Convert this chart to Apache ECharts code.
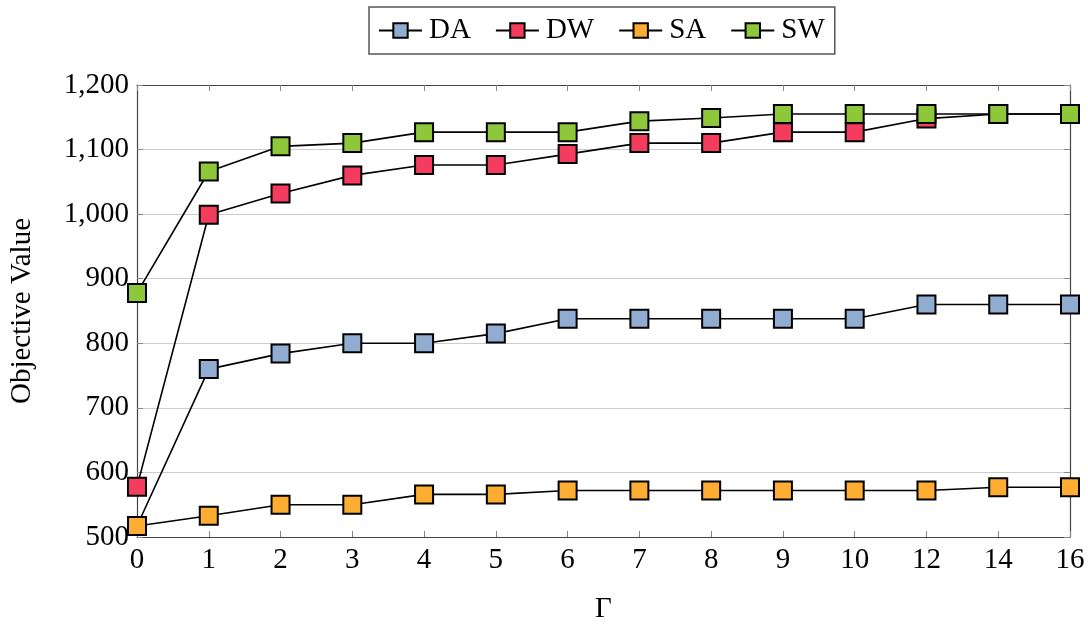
<!DOCTYPE html>
<html>
<head>
<meta charset="utf-8">
<script src="https://cdn.jsdelivr.net/npm/echarts@6/dist/echarts.min.js"></script>
<style>html,body{margin:0;padding:0;background:#fff}#c{width:1088px;height:628px}</style>
</head>
<body>
<div id="c"></div>
<script>
const categories = ['0','1','2','3','4','5','6','7','8','9','10','12','14','16'];
const DA = [517, 760, 784, 800, 800, 815, 838, 838, 838, 838, 838, 860, 860, 860];
const DW = [578, 999, 1032, 1060, 1076, 1076, 1093, 1110, 1110, 1127, 1127, 1148, 1155, 1155];
const SA = [517, 533, 550, 550, 566, 566, 572, 572, 572, 572, 572, 572, 577, 577];
const SW = [878, 1066, 1105, 1110, 1127, 1127, 1127, 1144, 1149, 1155, 1155, 1155, 1155, 1155];
const seriesNames = ['DA', 'DW', 'SA', 'SW'];
const seriesColors = ['#91acd1', '#f43c5e', '#fcad32', '#8ec73a'];
const yTicks = [500, 600, 700, 800, 900, 1000, 1100, 1200];

const FONT = '"Liberation Serif", "DejaVu Serif", serif';
const FS = 29;
const values = [DA, DW, SA, SW];

const chart = echarts.init(document.getElementById('c'), null, {renderer: 'canvas'});
const axisColor = '#444';
const option = {
  animation: false,
  backgroundColor: '#fff',
  textStyle: {fontFamily: FONT},
  legend: {
    top: 7,
    left: 369,
    data: seriesNames,
    itemWidth: 43,
    itemHeight: 18,
    itemGap: 24,
    padding: [9, 10, 9, 9],
    borderColor: '#555',
    borderWidth: 1.5,
    textStyle: {fontFamily: FONT, fontSize: FS, color: '#000', padding: [0, 0, 0, 2]}
  },
  grid: {left: 137, right: 18, top: 85, bottom: 91, containLabel: false, outerBoundsMode: 'none'},
  xAxis: [{
    type: 'category',
    data: categories,
    boundaryGap: false,
    name: 'Γ',
    nameLocation: 'middle',
    nameGap: 58,
    nameTextStyle: {fontFamily: FONT, fontSize: FS, color: '#000'},
    axisLine: {show: true, lineStyle: {color: axisColor, width: 1.2}},
    axisTick: {show: true, inside: true, length: 6, lineStyle: {color: '#888'}},
    axisLabel: {fontFamily: FONT, fontSize: FS, color: '#000', margin: 9},
    splitLine: {show: false}
  }, {
    type: 'category',
    data: categories,
    boundaryGap: false,
    position: 'top',
    axisLine: {show: true, lineStyle: {color: axisColor, width: 1.2}},
    axisTick: {show: true, inside: true, length: 6, lineStyle: {color: '#888'}},
    axisLabel: {show: false},
    splitLine: {show: false}
  }],
  yAxis: [{
    type: 'value',
    min: 500,
    max: 1200,
    interval: 100,
    name: 'Objective Value',
    nameLocation: 'middle',
    nameGap: 100,
    nameTextStyle: {fontFamily: FONT, fontSize: FS, color: '#000'},
    axisLine: {show: true, lineStyle: {color: axisColor, width: 1.2}},
    axisTick: {show: true, inside: true, length: 6, lineStyle: {color: '#888'}},
    axisLabel: {
      fontFamily: FONT, fontSize: FS, color: '#000', margin: 8,
      formatter: v => yTicks.includes(v) ? v.toLocaleString('en-US') : ''
    },
    splitLine: {show: true, lineStyle: {color: '#cccccc', width: 1}}
  }, {
    type: 'value',
    min: 500,
    max: 1200,
    interval: 100,
    position: 'right',
    axisLine: {show: true, lineStyle: {color: axisColor, width: 1.2}},
    axisTick: {show: true, inside: true, length: 6, lineStyle: {color: '#888'}},
    axisLabel: {show: false},
    splitLine: {show: false}
  }],
  series: seriesNames.map((name, i) => ({
    name: name,
    type: 'line',
    data: values[i],
    symbol: 'rect',
    symbolSize: 18,
    showAllSymbol: true,
    clip: false,
    lineStyle: {color: '#000', width: 1.6},
    itemStyle: {color: seriesColors[i], borderColor: '#000', borderWidth: 2, opacity: 1},
    emphasis: {disabled: true}
  }))
};
chart.setOption(option);
</script>
</body>
</html>
